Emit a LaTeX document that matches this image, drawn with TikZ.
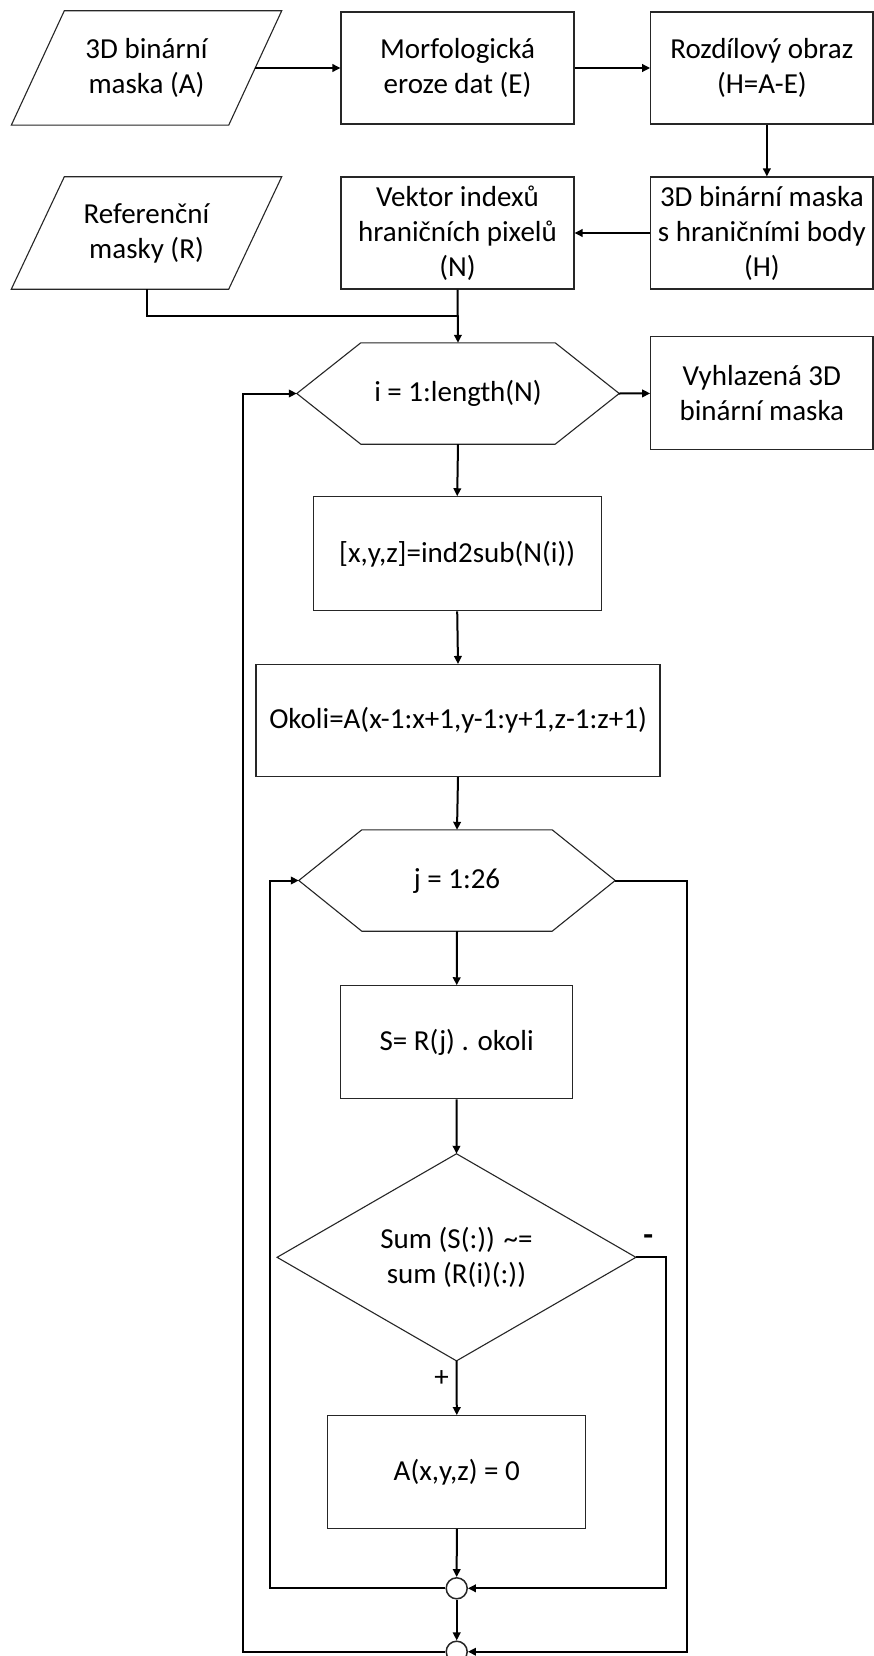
\documentclass[tikz,border=0pt]{standalone}
\usepackage{fontspec}
\setmainfont{Carlito}
\usetikzlibrary{arrows.meta,calc}
\begin{document}
\begin{tikzpicture}[x=1pt,y=-1pt,
  font=\fontsize{29}{35}\selectfont,
  outline/.style={draw=black!85, line width=1.1pt},
  base/.style={inner sep=0pt, align=center},
  sz/.style 2 args={minimum width=#1pt, minimum height=#2pt},
  procbox/.style={base, outline},
  ghost/.style={base},
  junction/.style={circle, draw=black!85, line width=1.5pt, fill=white, minimum size=21pt, inner sep=0pt},
  conn/.style={line width=2pt, black},
  arr/.style={conn, -{Triangle[length=8pt,width=7.5pt]}},
  tag/.style={inner sep=0pt, font=\fontsize{29}{35}\selectfont}
]
\useasboundingbox (0,0) rectangle (874,1656);
\fill[white] (0,0) rectangle (874,1656);

% ---- input and preprocessing row ----
\node[ghost, sz={217}{114}] (A) at (146.5,68) {3D binární\\maska (A)};
\node[procbox, sz={233}{112}] (E) at (457.5,68) {Morfologická\\eroze dat (E)};
\node[procbox, sz={222.3}{112}] (H1) at (761.85,68) {Rozdílový obraz\\(H=A-E)};

\node[ghost, sz={217}{112}] (R) at (146.5,233) {Referenční\\masky (R)};
\node[procbox, sz={233}{112}] (N) at (457.5,233) {Vektor indexů\\hraničních pixelů\\(N)};
\node[procbox, sz={222.3}{112}] (H2) at (761.85,233) {3D binární maska\\s hraničními body\\(H)};

% parallelogram outlines of the data inputs
\foreach \p in {A,R}
  \draw[outline] ($(\p.north west)+(26.5,0)$) -- ($(\p.north east)+(26.5,0)$)
     -- ($(\p.south east)-(26.5,0)$) -- ($(\p.south west)-(26.5,0)$) -- cycle;

% ---- outer loop ----
\node[ghost, sz={322}{101}] (LI) at (458,393.5) {i = 1:length(N)};
\node[procbox, sz={222.3}{113}] (OUT) at (761.85,393.4) {Vyhlazená 3D\\binární maska};
\node[procbox, sz={288}{114}] (SUB) at (457.2,553.8) {[x,y,z]=ind2sub(N(i))};
\node[procbox, sz={404}{112}] (OK) at (458,720.5) {Okoli=A(x-1:x+1,y-1:y+1,z-1:z+1)};

% ---- inner loop ----
\node[ghost, sz={316}{101}] (LJ) at (457,880.5) {j = 1:26};
\node[procbox, sz={232}{113}] (S) at (456.7,1042.3) {S= R(j) . okoli};
\node[ghost, sz={358.4}{206.7}] (D) at (456.5,1257.3) {Sum (S(:)) \textasciitilde=\\sum (R(i)(:))};
\node[procbox, sz={258}{112.6}] (Z) at (456.8,1472) {A(x,y,z) = 0};
\node[junction] (C1) at (456.7,1588.3) {};
\node[junction] (C2) at (456.7,1651.7) {};

% hexagonal loop headers
\foreach \h/\d in {LI/64,LJ/63}
  \draw[outline] (\h.west) -- ($(\h.north west)+(\d,0)$) -- ($(\h.north east)-(\d,0)$)
     -- (\h.east) -- ($(\h.south east)-(\d,0)$) -- ($(\h.south west)+(\d,0)$) -- cycle;

% decision diamond
\draw[outline] (D.north) -- (D.east) -- (D.south) -- (D.west) -- cycle;

% ---- connectors ----
\draw[arr] (A.east) -- (E.west);
\draw[arr] (E.east) -- (H1.west);
\draw[arr] ([xshift=5pt]H1.south) -- ([xshift=5pt]H2.north);
\draw[arr] (H2.west) -- (N.east);
\draw[conn] (R.south) |- ($(N.south)!0.5!(LI.north)$);
\draw[arr] (N.south) -- (LI.north);
\draw[arr] (LI.east) -- (OUT.west);
\draw[arr] (LI.south) -- (SUB.north);
\draw[arr] (SUB.south) -- (OK.north);
\draw[arr] (OK.south) -- (LJ.north);
\draw[arr] (LJ.south) -- (S.north);
\draw[arr] (S.south) -- (D.north);
\draw[arr] (D.south) -- (Z.north);
\draw[arr] (Z.south) -- (C1.north);
\draw[arr] (D.east) -- (666,1257.3) |- (C1.east);
\draw[arr] (C1.west) -- (270,1588.3) |- (LJ.west);
\draw[arr] (C1.south) -- (C2.north);
\draw[arr] (LJ.east) -- (686.7,880.5) |- (C2.east);
\draw[arr] (C2.west) -- (242.7,1651.7) |- (LI.west);

% branch labels
\node[tag] (plus) at (441.7,1379) {+};
\node[inner sep=0pt, font=\fontsize{32}{36}\selectfont\bfseries] (minus) at (648.3,1240) {-};
\end{tikzpicture}
\end{document}
